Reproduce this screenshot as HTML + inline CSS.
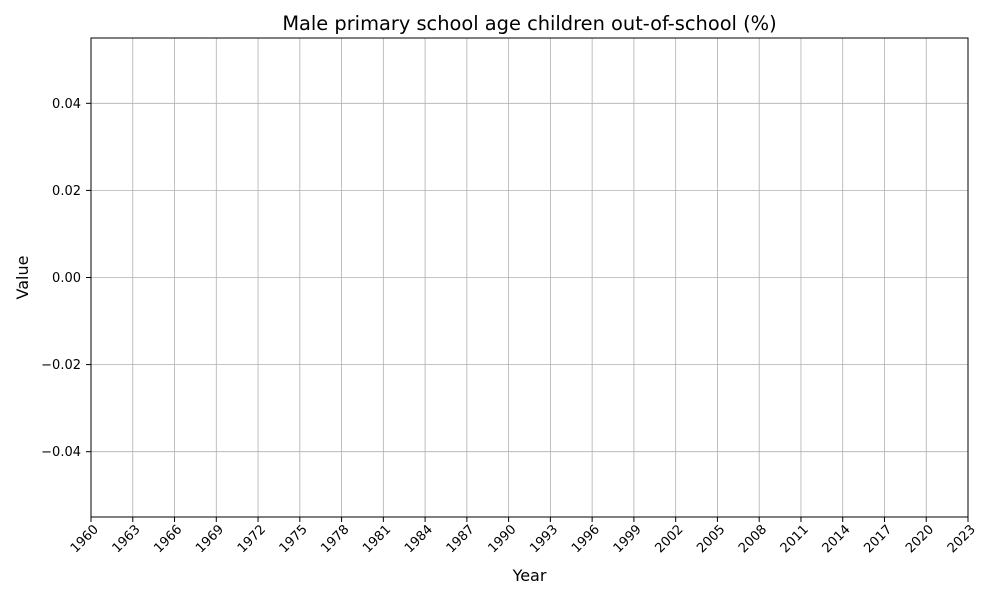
<!DOCTYPE html>
<html><head><meta charset="utf-8"><style>
body{margin:0;background:#fff;font-family:"DejaVu Sans","Liberation Sans",sans-serif;}
svg{display:block}
</style></head><body>
<svg id="chart" width="1000" height="600" xmlns="http://www.w3.org/2000/svg" font-family="DejaVu Sans, Liberation Sans, sans-serif">
<rect width="1000" height="600" fill="#fff"/>
<text x="529.5" y="30" text-anchor="middle" font-size="19.4" fill="#000">Male primary school age children out-of-school (%)</text>
<g id="grid"></g>
<g id="ticks"></g>
<rect x="91" y="38" width="877" height="479" fill="none" stroke="#000" stroke-width="1"/>
<text x="529.5" y="581" text-anchor="middle" font-size="16">Year</text>
<text transform="translate(28,277.5) rotate(-90)" text-anchor="middle" font-size="16">Value</text>
</svg>
<script>
const xTicks=[1960,1963,1966,1969,1972,1975,1978,1981,1984,1987,1990,1993,1996,1999,2002,2005,2008,2011,2014,2017,2020,2023];
const yTicks=[-0.04,-0.02,0.00,0.02,0.04];
const yTickLabels=["\u22120.04","\u22120.02","0.00","0.02","0.04"];
const seriesValues=[];
const X0=91,X1=968,Y0=38,Y1=517;
const xMin=1960,xMax=2023,yMin=-0.055,yMax=0.055;
function xs(v){return X0+(v-xMin)/(xMax-xMin)*(X1-X0);}
function ys(v){return Y1-(v-yMin)/(yMax-yMin)*(Y1-Y0);}
const NS="http://www.w3.org/2000/svg";
const grid=document.getElementById('grid'),ticks=document.getElementById('ticks');
function mk(t,a,p){const e=document.createElementNS(NS,t);for(const k in a)e.setAttribute(k,a[k]);p.appendChild(e);return e;}
xTicks.forEach(v=>{
 const x=xs(v);
 const g=mk('line',{x1:x,x2:x,y1:Y0,y2:Y1,stroke:'#b0b0b0','stroke-width':0.8},grid);
 
 
 const t=mk('line',{x1:x,x2:x,y1:Y1,y2:Y1+5,stroke:'#000'},ticks);
 
 
 const l=mk('text',{'font-size':13,'text-anchor':'end',transform:`translate(${x+8},${Y1+13}) rotate(-45)`},ticks);
 l.textContent=v;
 
 
});
yTicks.forEach((v,i)=>{
 const y=ys(v);
 const g=mk('line',{x1:X0,x2:X1,y1:y,y2:y,stroke:'#b0b0b0','stroke-width':0.8},grid);
 
 
 const t=mk('line',{x1:X0-5,x2:X0,y1:y,y2:y,stroke:'#000'},ticks);
 
 
 const l=mk('text',{'font-size':13,'text-anchor':'end',x:X0-10,y:y+4.5},ticks);
 l.textContent=yTickLabels[i];
 
 
});
</script>
</body></html>
